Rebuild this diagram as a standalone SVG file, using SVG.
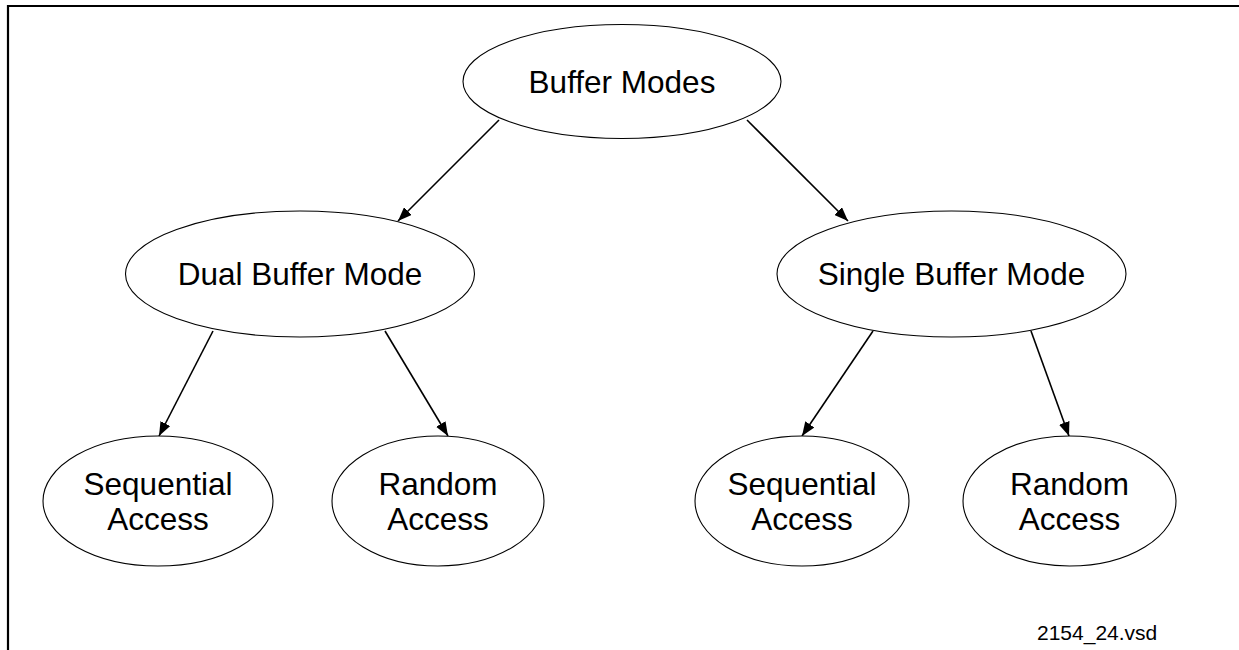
<svg xmlns="http://www.w3.org/2000/svg" width="1239" height="650" viewBox="0 0 1239 650">
<defs>
<style>
.node ellipse{fill:#fff;stroke:#000;stroke-width:1.1}
.node text{font-family:"Liberation Sans",Arial,sans-serif;font-size:31.5px;fill:#000;text-anchor:middle}
.edge{stroke:#000;stroke-width:1.6;fill:none;marker-end:url(#ah)}
.frame{stroke:#000;stroke-width:2.2;fill:none}
</style>
<marker id="ah" viewBox="0 0 14 11" refX="14" refY="5.5" markerWidth="14" markerHeight="11" markerUnits="userSpaceOnUse" orient="auto">
<path d="M0,0 L14,5.5 L0,11 z" fill="#000"/>
</marker>
</defs>
<rect width="1239" height="650" fill="#fff"/>
<path class="frame" d="M8,650 V6 H1239"/>
<g id="connectors">
<line class="edge" x1="499" y1="120" x2="398" y2="221"/>
<line class="edge" x1="747" y1="120" x2="848" y2="221"/>
<line class="edge" x1="213" y1="331" x2="159" y2="436"/>
<line class="edge" x1="385" y1="331" x2="448" y2="436"/>
<line class="edge" x1="873" y1="331" x2="802" y2="436"/>
<line class="edge" x1="1031" y1="331" x2="1069" y2="436"/>
</g>
<g id="n-buffer-modes" class="node">
<ellipse cx="622" cy="81.5" rx="159" ry="57"/>
<text x="622" y="92.5">Buffer Modes</text>
</g>
<g id="n-dual" class="node">
<ellipse cx="300" cy="274" rx="174.5" ry="63"/>
<text x="300" y="285">Dual Buffer Mode</text>
</g>
<g id="n-single" class="node">
<ellipse cx="951.5" cy="274" rx="174.5" ry="63"/>
<text x="951.5" y="285">Single Buffer Mode</text>
</g>
<g id="n-dual-seq" class="node">
<ellipse cx="158" cy="501" rx="115" ry="65"/>
<text x="158" y="495">Sequential</text>
<text x="158" y="530">Access</text>
</g>
<g id="n-dual-rand" class="node">
<ellipse cx="438" cy="501" rx="106" ry="65"/>
<text x="438" y="495">Random</text>
<text x="438" y="530">Access</text>
</g>
<g id="n-single-seq" class="node">
<ellipse cx="802" cy="501" rx="107" ry="65"/>
<text x="802" y="495">Sequential</text>
<text x="802" y="530">Access</text>
</g>
<g id="n-single-rand" class="node">
<ellipse cx="1069.5" cy="501" rx="106.5" ry="65"/>
<text x="1069.5" y="495">Random</text>
<text x="1069.5" y="530">Access</text>
</g>
<text x="1037" y="640" style="font-family:'Liberation Sans',Arial,sans-serif;font-size:21px;fill:#000">2154_24.vsd</text>
</svg>
